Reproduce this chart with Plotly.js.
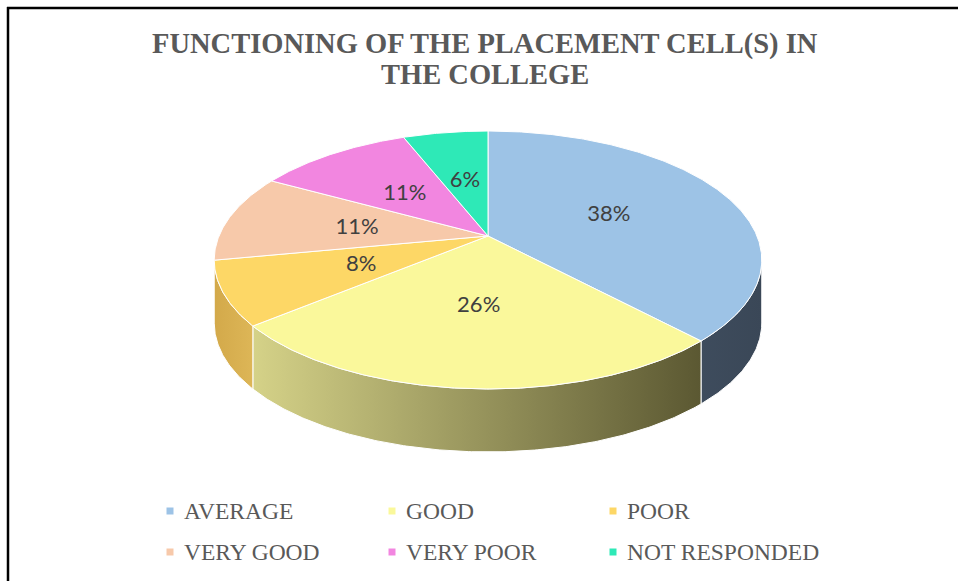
<!DOCTYPE html>
<html>
<head>
<meta charset="utf-8">
<script src="https://cdn.plot.ly/plotly-3.0.1.min.js"></script>
<style>html,body{margin:0;padding:0;background:#fff;}#chart{width:958px;height:581px;}</style>
</head>
<body>
<div id="chart"></div>
<script>
// ---- data ----
const categories = ['AVERAGE', 'GOOD', 'POOR', 'VERY GOOD', 'VERY POOR', 'NOT RESPONDED'];
const values = [38, 26, 8, 11, 11, 6];
const titleLines = ['FUNCTIONING OF THE PLACEMENT CELL(S) IN', 'THE COLLEGE'];

// ---- styles ----
const topColors = ['#9DC3E6', '#FAF89B', '#FDD766', '#F7C9AA', '#F286E0', '#2EE9B7'];
const sideLeft  = ['#3E4C5D', '#D5D288', '#D3A94A', '#C9A58C', '#B560A7', '#22AC88'];
const sideRight = ['#3A4757', '#5B5832', '#DDB657', '#C9A58C', '#B560A7', '#22AC88'];

// ---- projection of a tilted 3D disc (perspective) ----
const X0 = 488, Y0 = 236, A = 269, B = 124.5, K = 0.186, DEPTH = 63;
function proj(theta, r) {
  const u = r * Math.sin(theta), v = r * Math.cos(theta);
  const w = 1 + K * v;
  return [X0 + A * u / w, Y0 - B * v / w];
}
const total = values.reduce((a, b) => a + b, 0);
const TH1 = Math.acos(-K), TH2 = 2 * Math.PI - Math.acos(-K);
const STEP = Math.PI / 360;

const traces = [];
let cum = 0;
const slices = values.map(v => { const s = cum; cum += v; return [2 * Math.PI * s / total, 2 * Math.PI * cum / total]; });

// sides
slices.forEach(([s, e], i) => {
  const a = Math.max(s, TH1), b = Math.min(e, TH2);
  if (b - a < 0.002) return;
  const xs = [], ys = [];
  for (let t = a; t < b; t += STEP) { const p = proj(t, 1); xs.push(p[0]); ys.push(p[1]); }
  let p = proj(b, 1); xs.push(p[0]); ys.push(p[1]);
  for (let t = b; t > a; t -= STEP) { const q = proj(t, 1); xs.push(q[0]); ys.push(q[1] + DEPTH); }
  p = proj(a, 1); xs.push(p[0]); ys.push(p[1] + DEPTH);
  xs.push(xs[0]); ys.push(ys[0]);
  const xmin = Math.min(...xs), xmax = Math.max(...xs);
  traces.push({
    type: 'scatter', mode: 'lines', x: xs, y: ys, fill: 'toself',
    fillgradient: { type: 'horizontal', colorscale: [[0, sideLeft[i]], [1, sideRight[i]]], start: xmin, stop: xmax },
    line: { color: '#ffffff', width: 1 }, hoverinfo: 'skip', showlegend: false
  });
});

// tops
slices.forEach(([s, e], i) => {
  const xs = [X0], ys = [Y0];
  for (let t = s; t < e; t += STEP) { const p = proj(t, 1); xs.push(p[0]); ys.push(p[1]); }
  const p = proj(e, 1); xs.push(p[0]); ys.push(p[1]);
  xs.push(X0); ys.push(Y0);
  traces.push({
    type: 'scatter', mode: 'lines', x: xs, y: ys, fill: 'toself', fillcolor: topColors[i],
    line: { color: '#ffffff', width: 1 }, hoverinfo: 'text', text: categories[i], showlegend: false
  });
});

// data labels
const lx = [], ly = [], lt = [];
slices.forEach(([s, e], i) => {
  const p = proj((s + e) / 2, 0.5);
  lx.push(p[0]); ly.push(p[1] + 2);
  lt.push(Math.round(100 * values[i] / total) + '%');
});
traces.push({
  type: 'scatter', mode: 'text', x: lx, y: ly, text: lt, textposition: 'middle center',
  textfont: { family: 'Lato, "Open Sans", sans-serif', size: 22, color: '#404040' },
  hoverinfo: 'skip', showlegend: false
});

// legend markers
const legX = [170, 392, 613], legY = [511, 552];
const mx = categories.map((c, i) => legX[i % 3]);
const my = categories.map((c, i) => legY[Math.floor(i / 3)]);
traces.push({
  type: 'scatter', mode: 'markers', x: mx, y: my,
  marker: { symbol: 'square', size: 7, color: topColors, line: { width: 0 } },
  hoverinfo: 'skip', showlegend: false
});

const annotations = categories.map((c, i) => ({
  x: mx[i] + 12, y: my[i], xref: 'x', yref: 'y', text: c, showarrow: false,
  xanchor: 'left', yanchor: 'middle',
  font: { family: '"Liberation Serif", "Times New Roman", serif', size: 23.5, color: '#595959' }
}));
titleLines.forEach((t, i) => annotations.push({
  x: 485, y: 44 + 30 * i, xref: 'x', yref: 'y', text: '<b>' + t + '</b>', showarrow: false,
  xanchor: 'center', yanchor: 'middle',
  font: { family: '"Liberation Serif", "Times New Roman", serif', size: 28.5, color: '#595959' }
}));

const layout = {
  width: 958, height: 581,
  margin: { l: 0, r: 0, t: 0, b: 0 },
  paper_bgcolor: '#ffffff', plot_bgcolor: '#ffffff',
  xaxis: { range: [0, 958], visible: false, fixedrange: true },
  yaxis: { range: [581, 0], visible: false, fixedrange: true },
  showlegend: false,
  annotations: annotations,
  shapes: [
    { type: 'line', xref: 'x', yref: 'y', x0: 7, x1: 958, y0: 8, y1: 8, line: { color: '#000', width: 2.5 } },
    { type: 'line', xref: 'x', yref: 'y', x0: 8, x1: 8, y0: 7, y1: 581, line: { color: '#000', width: 2.5 } }
  ]
};
Plotly.newPlot('chart', traces, layout, { staticPlot: true, displayModeBar: false });
</script>
</body>
</html>
